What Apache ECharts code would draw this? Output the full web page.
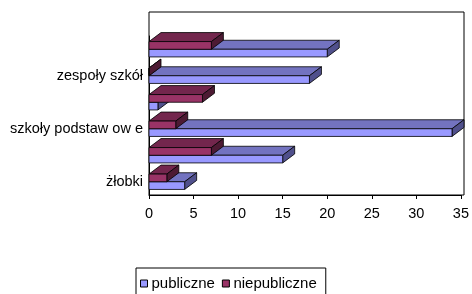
<!DOCTYPE html>
<html>
<head>
<meta charset="utf-8">
<script src="https://cdn.jsdelivr.net/npm/echarts@6/dist/echarts.min.js"></script>
<style>
  html, body { margin: 0; padding: 0; background: #fff; }
  #chart { width: 472px; height: 294px; }
</style>
</head>
<body>
<div id="chart"></div>
<script>
// categories bottom -> top, only every other one carries a label
var categories = ['żłobki', '', 'szkoły podstaw ow e', '', 'zespoły szkół', '']
var publiczne = [4, 15, 34, 1, 18, 20]
var niepubliczne = [2, 7, 3, 6, 0, 7]
var xTicks = [0, 35, 5] // min, max, interval

// 3d look, depth in px
var DX = 12
var DY = 9

function bar3d(slot, front, top, side) {
    return function (params, api) {
        var base = api.coord([0, api.value(1)])
        var end = api.coord([api.value(0), api.value(1)])
        var band = api.size([0, 1])[1]
        var h = band * 0.29
        var x0 = base[0]
        var x1 = end[0]
        var y0 = base[1] + slot * h
        var line = { stroke: '#000', lineWidth: 0.8 }
        return {
            type: 'group',
            children: [
                {
                    type: 'polygon',
                    shape: { points: [[x0, y0], [x1, y0], [x1 + DX, y0 - DY], [x0 + DX, y0 - DY]] },
                    style: Object.assign({ fill: top }, line)
                },
                {
                    type: 'polygon',
                    shape: { points: [[x1, y0], [x1, y0 + h], [x1 + DX, y0 + h - DY], [x1 + DX, y0 - DY]] },
                    style: Object.assign({ fill: side }, line)
                },
                {
                    type: 'rect',
                    shape: { x: x0, y: y0, width: x1 - x0, height: h },
                    style: Object.assign({ fill: front }, line)
                }
            ]
        }
    }
}

function toData(arr) {
    return arr.map(function (v, i) { return [v, i] })
}

var mychart = echarts.init(document.getElementById('chart'))
mychart.setOption({
    backgroundColor: '#fff',
    animation: false,
    textStyle: { fontFamily: 'Liberation Sans, Arial, sans-serif' },
    grid: [
        { left: 149, right: 8, top: 36, bottom: 99 },
        { left: 149, right: 8, top: 12, bottom: 99, show: true, borderColor: '#000', borderWidth: 1, backgroundColor: 'transparent' }
    ],
    xAxis: [
        {
            type: 'value',
            gridIndex: 0,
            min: xTicks[0],
            max: xTicks[1],
            interval: xTicks[2],
            axisLine: { show: true, lineStyle: { color: '#000', width: 1 } },
            axisTick: { show: true, length: 4, lineStyle: { color: '#000' } },
            splitLine: { show: false },
            axisLabel: { color: '#000', fontSize: 14.5, margin: 11 }
        },
        { type: 'value', gridIndex: 1, show: false }
    ],
    yAxis: [
        {
            type: 'category',
            gridIndex: 0,
            data: categories,
            axisLine: { show: true, lineStyle: { color: '#000', width: 1 } },
            axisTick: { show: false },
            axisLabel: { color: '#000', fontSize: 14.5, margin: 6, interval: 1 }
        },
        { type: 'value', gridIndex: 1, show: false }
    ],
    legend: {
        left: 136,
        top: 268,
        orient: 'horizontal',
        itemWidth: 7,
        itemHeight: 7,
        itemGap: 7,
        padding: [8, 9, 6, 4],
        borderColor: '#000',
        borderWidth: 1,
        borderRadius: 0,
        icon: 'rect',
        textStyle: { color: '#000', fontSize: 15, padding: [0, 0, 0, -1] },
        data: [
            { name: 'publiczne', itemStyle: { color: '#9999FF', borderColor: '#000', borderWidth: 1 } },
            { name: 'niepubliczne', itemStyle: { color: '#993366', borderColor: '#000', borderWidth: 1 } }
        ]
    },
    series: [
        {
            name: 'publiczne',
            type: 'custom',
            xAxisIndex: 0,
            yAxisIndex: 0,
            itemStyle: { color: '#9999FF' },
            renderItem: bar3d(0, '#9999FF', '#7373C0', '#50508C'),
            encode: { x: 0, y: 1 },
            data: toData(publiczne)
        },
        {
            name: 'niepubliczne',
            type: 'custom',
            xAxisIndex: 0,
            yAxisIndex: 0,
            itemStyle: { color: '#993366' },
            renderItem: bar3d(-1, '#993366', '#73264D', '#4D1A33'),
            encode: { x: 0, y: 1 },
            data: toData(niepubliczne)
        }
    ]
})
</script>
</body>
</html>
